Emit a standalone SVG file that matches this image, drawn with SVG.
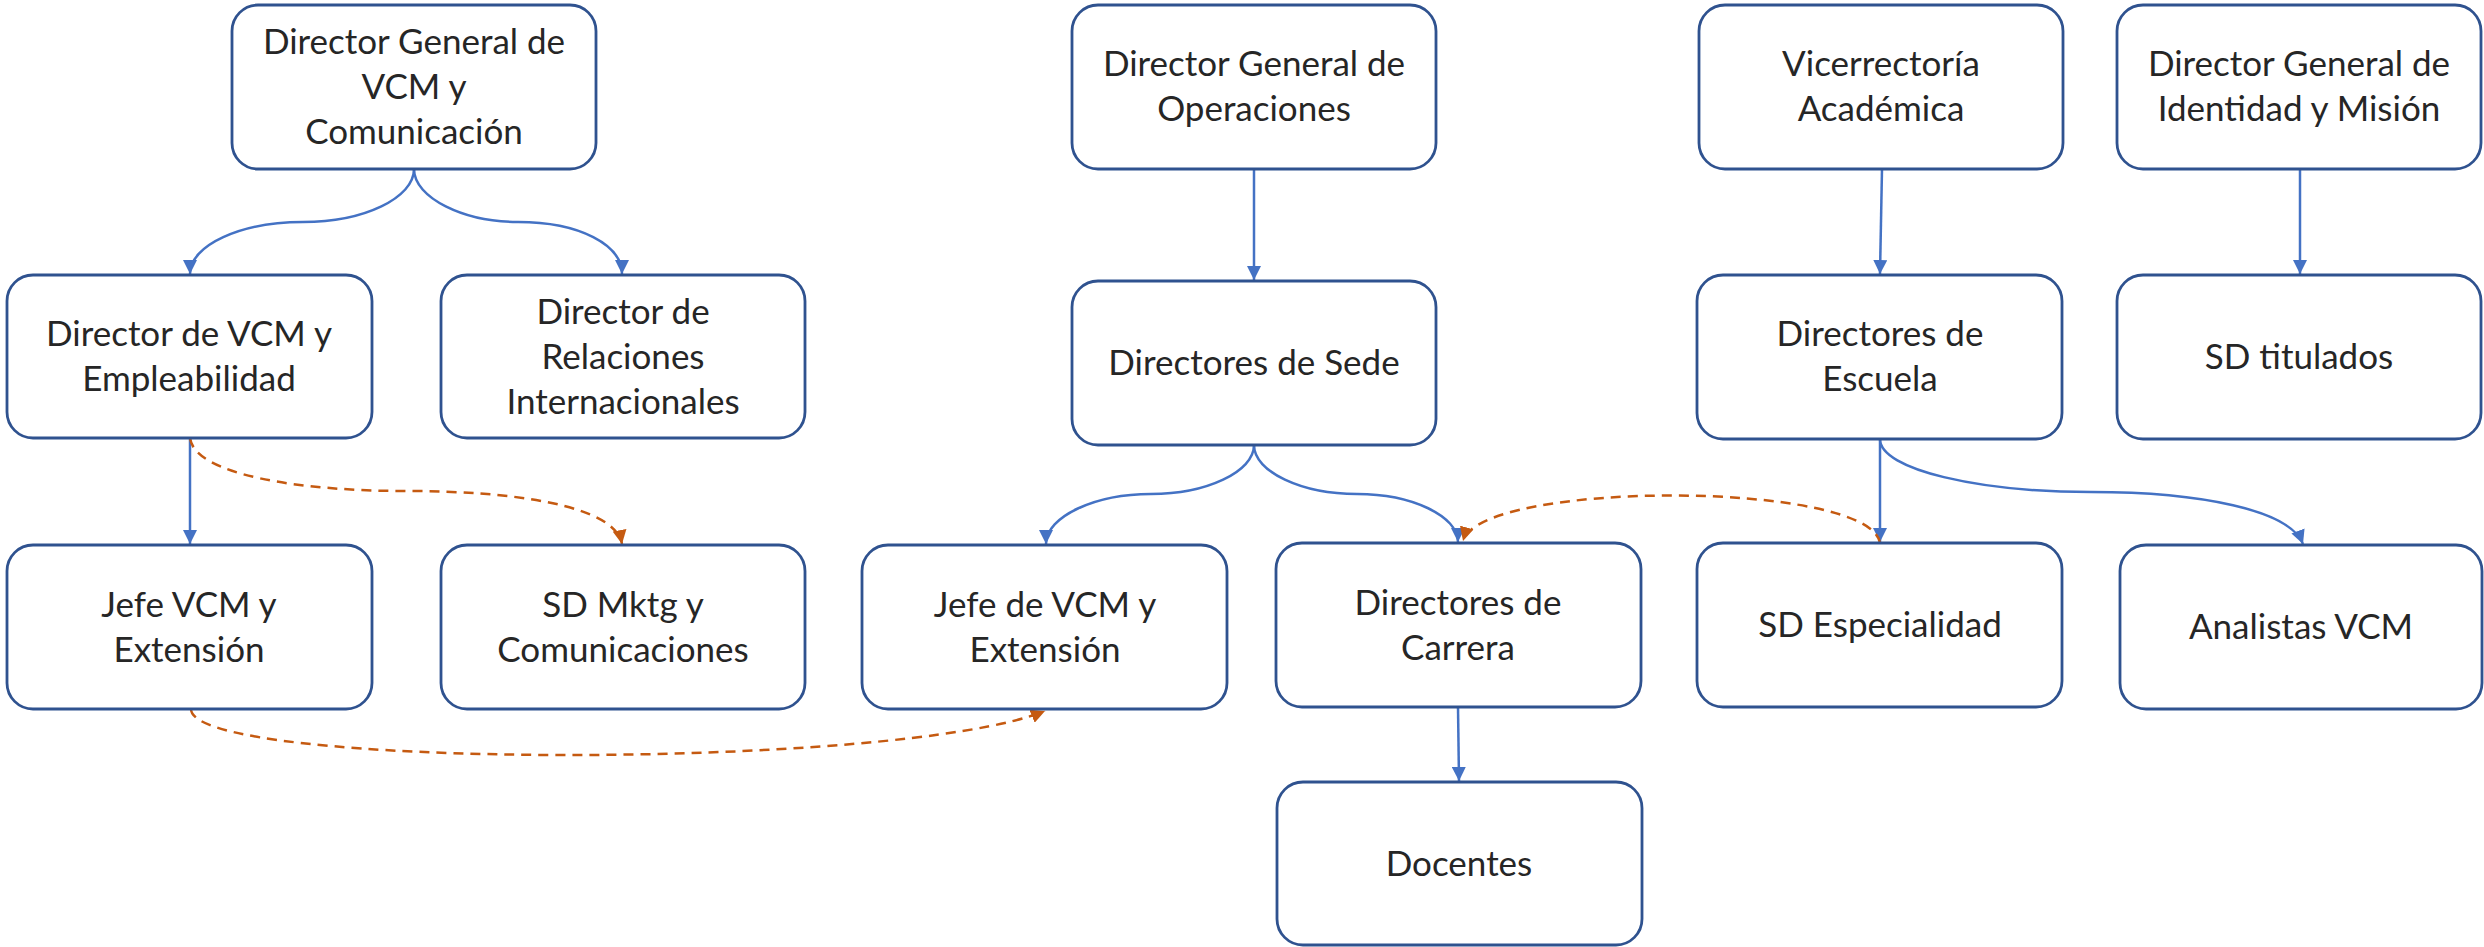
<svg xmlns="http://www.w3.org/2000/svg" width="2484" height="947" viewBox="0 0 2484 947">
<defs>
<style>
.node rect{fill:#ffffff;stroke:#2F528F;stroke-width:2.8}
.node text{font-family:Lato,"Open Sans","Liberation Sans",sans-serif;font-size:35px;fill:#262626;text-anchor:middle}
.blue{fill:none;stroke:#4472C4;stroke-width:2.5;marker-end:url(#ab)}
.orange{fill:none;stroke:#C55A11;stroke-width:2.5;stroke-dasharray:10 7;marker-end:url(#ao)}
</style>
<marker id="ab" markerUnits="userSpaceOnUse" viewBox="0 0 14 14" refX="14" refY="7" markerWidth="14" markerHeight="14" orient="auto"><path d="M0,0 L14,7 L0,14 z" fill="#4472C4"/></marker>
<marker id="ao" markerUnits="userSpaceOnUse" viewBox="0 0 14 14" refX="14" refY="7" markerWidth="14" markerHeight="14" orient="auto"><path d="M0,0 L14,7 L0,14 z" fill="#C55A11"/></marker>
</defs>
<rect width="2484" height="947" fill="#ffffff"/>
<g id="connectors">
<path class="blue" d="M414,169 C414,198 364,222 303,222 C241,222 190,245 190,274"/>
<path class="blue" d="M414,169 C414,198 464,222 518,222 C580,222 622,245 622,274"/>
<path class="blue" d="M1254,169 L1254,280"/>
<path class="blue" d="M1882,169 L1880,274"/>
<path class="blue" d="M2300,169 L2300,274"/>
<path class="blue" d="M190,438 L190,544"/>
<path class="blue" d="M1254,445 C1254,472 1206,494 1151,494 C1096,494 1046,516 1046,544"/>
<path class="blue" d="M1254,445 C1254,472 1302,494 1357,494 C1412,494 1458,516 1458,542"/>
<path class="blue" d="M1458,707 L1459,781"/>
<path class="blue" d="M1880,439 L1880,542"/>
<path class="blue" d="M1880,439 C1880,470 1980,492 2091,492 C2200,492 2290,510 2303,544"/>
<path class="orange" d="M190,438 C195,475 300,491 406,491 C512,491 615,505 622,544"/>
<path class="orange" d="M191,709 C191,770 900,770 1045,711"/>
<path class="orange" d="M1880,543 C1870,480 1480,480 1463,541"/>
</g>
<g id="n-dg-vcm" class="node"><rect x="232" y="5" width="364" height="164" rx="26"/><text x="414" y="54">Director General de</text><text x="414" y="99">VCM y</text><text x="414" y="144">Comunicación</text></g>
<g id="n-dg-ops" class="node"><rect x="1072" y="5" width="364" height="164" rx="26"/><text x="1254" y="76">Director General de</text><text x="1254" y="121">Operaciones</text></g>
<g id="n-vicerrectoria" class="node"><rect x="1699" y="5" width="364" height="164" rx="26"/><text x="1881" y="76">Vicerrectoría</text><text x="1881" y="121">Académica</text></g>
<g id="n-dg-identidad" class="node"><rect x="2117" y="5" width="364" height="164" rx="26"/><text x="2299" y="76">Director General de</text><text x="2299" y="121">Identidad y Misión</text></g>
<g id="n-dir-vcm-emp" class="node"><rect x="7" y="275" width="365" height="163" rx="26"/><text x="189" y="346">Director de VCM y</text><text x="189" y="391">Empleabilidad</text></g>
<g id="n-dir-rrii" class="node"><rect x="441" y="275" width="364" height="163" rx="26"/><text x="623" y="324">Director de</text><text x="623" y="369">Relaciones</text><text x="623" y="414">Internacionales</text></g>
<g id="n-dir-sede" class="node"><rect x="1072" y="281" width="364" height="164" rx="26"/><text x="1254" y="375">Directores de Sede</text></g>
<g id="n-dir-escuela" class="node"><rect x="1697" y="275" width="365" height="164" rx="26"/><text x="1880" y="346">Directores de</text><text x="1880" y="391">Escuela</text></g>
<g id="n-sd-titulados" class="node"><rect x="2117" y="275" width="364" height="164" rx="26"/><text x="2299" y="369">SD titulados</text></g>
<g id="n-jefe-vcm-ext" class="node"><rect x="7" y="545" width="365" height="164" rx="26"/><text x="189" y="617">Jefe VCM y</text><text x="189" y="662">Extensión</text></g>
<g id="n-sd-mktg" class="node"><rect x="441" y="545" width="364" height="164" rx="26"/><text x="623" y="617">SD Mktg y</text><text x="623" y="662">Comunicaciones</text></g>
<g id="n-jefe-de-vcm" class="node"><rect x="862" y="545" width="365" height="164" rx="26"/><text x="1045" y="617">Jefe de VCM y</text><text x="1045" y="662">Extensión</text></g>
<g id="n-dir-carrera" class="node"><rect x="1276" y="543" width="365" height="164" rx="26"/><text x="1458" y="615">Directores de</text><text x="1458" y="660">Carrera</text></g>
<g id="n-docentes" class="node"><rect x="1277" y="782" width="365" height="163" rx="26"/><text x="1459" y="876">Docentes</text></g>
<g id="n-sd-especialidad" class="node"><rect x="1697" y="543" width="365" height="164" rx="26"/><text x="1880" y="637">SD Especialidad</text></g>
<g id="n-analistas" class="node"><rect x="2120" y="545" width="362" height="164" rx="26"/><text x="2301" y="639">Analistas VCM</text></g>
</svg>
